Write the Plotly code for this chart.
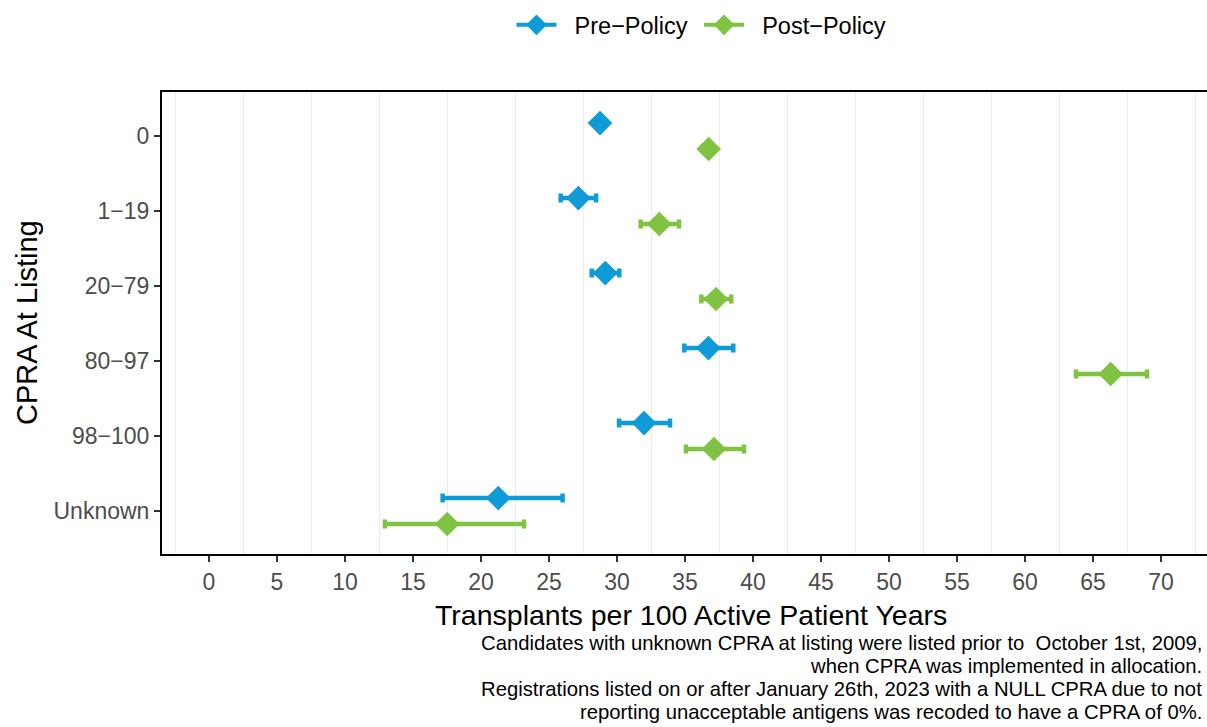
import plotly.graph_objects as go

# ---- data ----
categories = ["0", "1−19", "20−79", "80−97", "98−100", "Unknown"]
pre_rate = [28.75, 27.16, 29.14, 36.72, 31.99, 21.27]
pre_lower = [28.45, 25.86, 28.14, 34.95, 30.15, 17.18]
pre_upper = [29.05, 28.46, 30.17, 38.55, 33.90, 26.00]
post_rate = [36.74, 33.11, 37.28, 66.30, 37.13, 17.52]
post_lower = [36.44, 31.74, 36.20, 63.75, 35.07, 12.94]
post_upper = [37.04, 34.56, 38.40, 68.97, 39.34, 23.16]
x_ticks = list(range(0, 75, 5))
footnote_lines = [
    "Candidates with unknown CPRA at listing were listed prior to  October 1st, 2009,",
    "when CPRA was implemented in allocation.",
    "Registrations listed on or after January 26th, 2023 with a NULL CPRA due to not",
    "reporting unacceptable antigens was recoded to have a CPRA of 0%.",
]

BLUE = "#0F9BD7"
GREEN = "#80C342"
W, H = 1207, 727
ML, MT, MB, MR = 162, 92, 173, 0
DODGE = 0.173

n = len(categories)
ypos = [n - 1 - i for i in range(n)]

fig = go.Figure()

def add_series(name, rate, lo, hi, color, sign):
    ys = [y + sign * DODGE for y in ypos]
    fig.add_trace(go.Scatter(
        x=rate, y=ys, mode="markers", showlegend=False, name=name,
        marker=dict(symbol="diamond", size=19, color=color),
        error_x=dict(type="data", symmetric=False,
                     array=[h - r for h, r in zip(hi, rate)],
                     arrayminus=[r - l for r, l in zip(rate, lo)],
                     color=color, thickness=4.5, width=4.5),
    ))
    fig.add_trace(go.Scatter(
        x=[None], y=[None], mode="lines+markers", name="\u00a0\u00a0" + name + "\u00a0",
        line=dict(color=color, width=4),
        marker=dict(symbol="diamond", size=16, color=color),
    ))

add_series("Pre−Policy", pre_rate, pre_lower, pre_upper, BLUE, +1)
add_series("Post−Policy", post_rate, post_lower, post_upper, GREEN, -1)

pw = W - ML - MR
ph = H - MT - MB

def px_x(p):
    return (p - ML) / pw

def px_y(p):
    return (H - MB - p) / ph

annotations = [
    dict(text="Transplants per 100 Active Patient Years", x=px_x(691), y=px_y(615),
         xref="paper", yref="paper", showarrow=False, xanchor="center", yanchor="middle",
         font=dict(size=28.5, color="black")),
    dict(text="CPRA At Listing", x=px_x(27), y=px_y(323), textangle=-90,
         xref="paper", yref="paper", showarrow=False, xanchor="center", yanchor="middle",
         font=dict(size=29, color="black")),
]
for i, line in enumerate(footnote_lines):
    annotations.append(dict(
        text=line, x=px_x(1204), y=px_y(643 + 23 * i), xref="paper", yref="paper",
        showarrow=False, xanchor="right", yanchor="middle",
        font=dict(size=20.3, color="black")))

fig.update_layout(
    width=W, height=H,
    margin=dict(l=ML, r=MR, t=MT, b=MB, pad=0),
    paper_bgcolor="white", plot_bgcolor="white",
    font=dict(family="Liberation Sans, Arial, sans-serif", color="black"),
    showlegend=True,
    legend=dict(orientation="h", x=px_x(704.5), y=px_y(25), xanchor="center", yanchor="middle",
                font=dict(size=23.5, color="black"), itemwidth=40,
                bgcolor="rgba(0,0,0,0)"),
    annotations=annotations,
    xaxis=dict(
        range=[(ML - 209) / 13.6, (W - MR - 209) / 13.6],
        tickvals=x_ticks, ticktext=[str(v) for v in x_ticks],
        showgrid=False, zeroline=False,
        showline=True, mirror=True, linecolor="black", linewidth=2,
        ticks="outside", ticklen=6, tickwidth=2, tickcolor="#333333",
        tickfont=dict(size=23, color="#4D4D4D"),
        minor=dict(tick0=2.5, dtick=5, showgrid=True, gridcolor="#EBEBEB", gridwidth=1.2, ticks=""),
    ),
    yaxis=dict(
        range=[-0.573, 5.587],
        tickvals=ypos, ticktext=categories,
        showgrid=False, zeroline=False,
        showline=True, mirror=False, linecolor="black", linewidth=2,
        ticks="outside", ticklen=6, tickwidth=2, tickcolor="#333333",
        tickfont=dict(size=23, color="#4D4D4D"),
    ),
)

fig.write_html("out.html", config={"displayModeBar": False},
               post_script="document.body.style.margin='0px';")
